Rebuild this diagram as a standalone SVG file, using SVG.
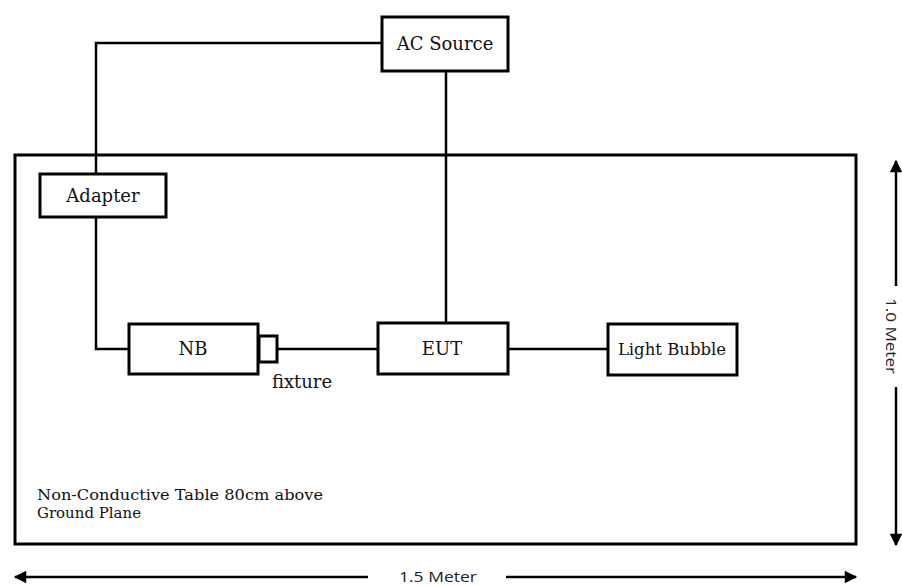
<svg xmlns="http://www.w3.org/2000/svg" width="902" height="586" viewBox="0 0 902 586">
<style>
.box{fill:#fff;stroke:#000;stroke-width:3}
.wire{fill:none;stroke:#000;stroke-width:2.5}
.lbl{font-family:"DejaVu Serif","Liberation Serif",serif;font-size:18px;fill:#111;text-anchor:middle}
.note{font-family:"DejaVu Serif","Liberation Serif",serif;font-size:15px;fill:#111}
.dim{font-family:"Open Sans","Liberation Sans",sans-serif;font-size:15px;fill:#222;text-anchor:middle}
.dline{stroke:#000;stroke-width:2.5;fill:none}
</style>
<defs>
<marker id="ah" viewBox="0 0 10 10" refX="9" refY="5" markerWidth="5.5" markerHeight="5" orient="auto-start-reverse" markerUnits="strokeWidth">
<path d="M0,0 L10,5 L0,10 z" fill="#000"/>
</marker>
</defs>
<rect width="902" height="586" fill="#fff"/>
<g id="table">
<rect x="15" y="155" width="841" height="389" fill="none" stroke="#000" stroke-width="3"/>
<text class="note" x="37" y="500" textLength="286" lengthAdjust="spacingAndGlyphs">Non-Conductive Table 80cm above</text>
<text class="note" x="37" y="518" textLength="104" lengthAdjust="spacingAndGlyphs">Ground Plane</text>
</g>
<g id="connectors">
<polyline class="wire" points="381,43 96,43 96,174"/>
<polyline class="wire" points="96,217 96,349 129,349"/>
<line class="wire" x1="278" y1="349" x2="378" y2="349"/>
<line class="wire" x1="446" y1="323" x2="446" y2="71"/>
<line class="wire" x1="508" y1="349" x2="608" y2="349"/>
</g>
<g id="ac-source">
<rect class="box" x="382" y="17" width="126" height="54"/>
<text class="lbl" x="445" y="50">AC Source</text>
</g>
<g id="adapter">
<rect class="box" x="40" y="174" width="126" height="43"/>
<text class="lbl" x="103" y="202">Adapter</text>
</g>
<g id="nb">
<rect class="box" x="129" y="324" width="129" height="50"/>
<text class="lbl" x="193" y="355">NB</text>
</g>
<g id="fixture">
<rect class="box" x="259" y="336" width="18" height="26"/>
<text class="lbl" x="302" y="388">fixture</text>
</g>
<g id="eut">
<rect class="box" x="378" y="323" width="130" height="51"/>
<text class="lbl" x="442" y="355">EUT</text>
</g>
<g id="light-bubble">
<rect class="box" x="608" y="324" width="129" height="51"/>
<text class="lbl" x="672" y="355" style="font-size:16.5px">Light Bubble</text>
</g>
<g id="dimensions">
<line class="dline" x1="368" y1="577" x2="15" y2="577" marker-end="url(#ah)"/>
<line class="dline" x1="506" y1="577" x2="856" y2="577" marker-end="url(#ah)"/>
<text class="dim" x="438" y="582" textLength="78" lengthAdjust="spacingAndGlyphs">1.5 Meter</text>
<line class="dline" x1="896" y1="286" x2="896" y2="161" marker-end="url(#ah)"/>
<line class="dline" x1="896" y1="387" x2="896" y2="545" marker-end="url(#ah)"/>
<text class="dim" transform="translate(886,336) rotate(90)" x="0" y="0" style="font-size:14px" textLength="76" lengthAdjust="spacingAndGlyphs">1.0 Meter</text>
</g>
</svg>
